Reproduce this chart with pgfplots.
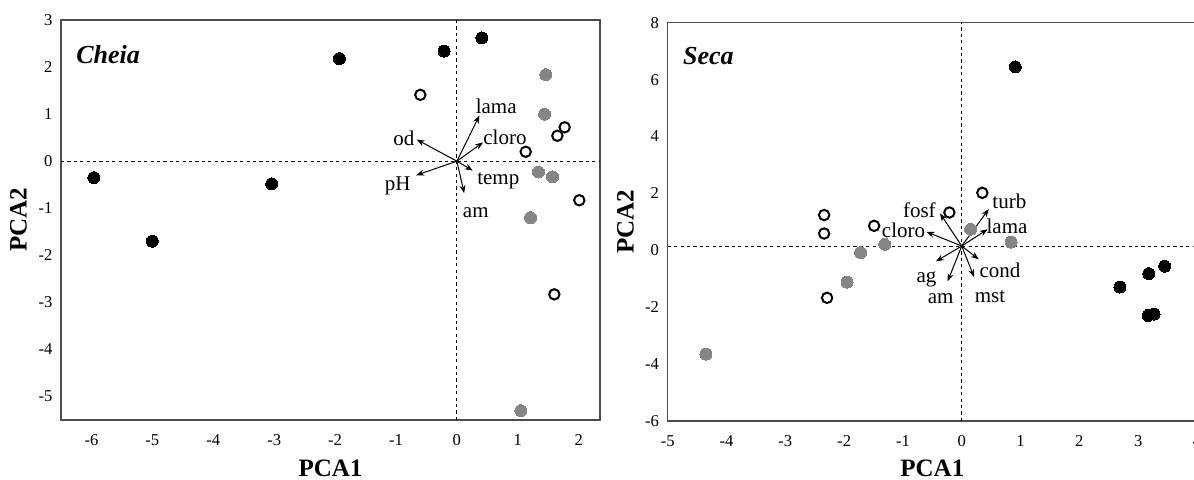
\documentclass[border=0pt]{standalone}
\usepackage{fontspec}
\setmainfont{Liberation Serif}
\usepackage{pgfplots}
\pgfplotsset{compat=1.18}
\usetikzlibrary{arrows.meta}

\definecolor{dotgray}{HTML}{858585}

\pgfplotsset{
  pca/.style={
    scale only axis,
    clip=false,
    axis line style={black!70, line width=0.75pt},
    major tick length=0pt,
    tick style={draw=none},
    /pgf/number format/assume math mode=true,
    tick label style={font=\fontsize{8.3}{10}\selectfont},
    xticklabel style={yshift=-3.6pt},
    yticklabel style={xshift=-0.8pt},
    label style={font=\fontsize{12.5}{15}\selectfont\bfseries},
    xlabel style={at={(axis description cs:0.5,-0.12)}, anchor=center},
    ylabel style={at={(axis description cs:-0.079,0.5)}, anchor=center},
  },
  blackdot/.style={only marks, black, mark=*, mark size=3pt, mark options={draw=black, fill=black, line width=0pt}},
  graydot/.style={only marks, dotgray, mark=*, mark size=3pt, mark options={draw=dotgray, fill=dotgray, line width=0pt}},
  opendot/.style={only marks, black, mark=o, mark size=2.6pt, mark options={draw=black, line width=1pt}},
  zeroline/.style={black, line width=0.5pt, dash pattern=on 1.6pt off 1.6pt},
  loading/.style={black, line width=0.5pt, -{Stealth[length=4pt, width=3pt]},
    quiver={u=\thisrow{u}, v=\thisrow{v}}},
}
\tikzset{
  vname/.style={font=\fontsize{10.5}{12}\selectfont, anchor=base, inner sep=0pt},
  panel/.style={anchor=base west, inner sep=0pt, font=\fontsize{13}{15}\selectfont\bfseries\itshape},
}

\begin{document}
\begin{tikzpicture}
\useasboundingbox (0,0) rectangle (597pt,-240pt);

% ---- Cheia ----
\begin{axis}[pca,
    at={(30.5pt,-210pt)}, anchor=south west,
    width=269.5pt, height=200pt,
    xmin=-6.5, xmax=2.35, ymin=-5.5, ymax=3,
    xtick={-6,-5,...,2}, ytick={-5,-4,...,3},
    xlabel={PCA1}, ylabel={PCA2},
]
\addplot[zeroline] coordinates {(-6.5,0) (2.35,0)};
\addplot[zeroline] coordinates {(0,-5.5) (0,3)};

\addplot[loading] table {
x y u v
0 0 0.37 0.97
0 0 0.43 0.40
0 0 -0.66 0.46
0 0 -0.67 -0.30
0 0 0.26 -0.20
0 0 0.12 -0.68
};
\node[vname] at (axis cs:0.645,1.02) {lama};
\node[vname] at (axis cs:0.79,0.35) {cloro};
\node[vname] at (axis cs:-0.87,0.34) {od};
\node[vname] at (axis cs:-0.97,-0.63) {pH};
\node[vname] at (axis cs:0.68,-0.49) {temp};
\node[vname] at (axis cs:0.31,-1.2) {am};

\addplot[blackdot] coordinates {(-5.96,-0.35) (-5.0,-1.7) (-3.04,-0.48) (-1.93,2.18) (-0.21,2.34) (0.41,2.62)};
\addplot[graydot] coordinates {(1.46,1.84) (1.44,1.0) (1.34,-0.23) (1.57,-0.33) (1.21,-1.2) (1.05,-5.3)};
\addplot[opendot] coordinates {(-0.6,1.41) (1.13,0.2) (1.65,0.54) (1.77,0.72) (2.01,-0.83) (1.6,-2.83)};

\node[panel, xshift=7.5pt, yshift=-21.5pt] at (rel axis cs:0,1) {Cheia};
\end{axis}

% ---- Seca ----
\begin{axis}[pca,
    at={(333.85pt,-210.5pt)}, anchor=south west,
    width=264.65pt, height=199.15pt,
    xmin=-5, xmax=4, ymin=-6, ymax=8,
    xtick={-5,-4,...,4}, ytick={-6,-4,...,8},
    xlabel={PCA1}, ylabel={PCA2},
    ylabel style={at={(axis description cs:-0.08,0.5)}},
]
\addplot[zeroline] coordinates {(-5,0.15) (4,0.15)};
\addplot[zeroline] coordinates {(0,-6) (0,8)};

\addplot[loading] table {
x y u v
0 0.15 0.46 1.30
0 0.15 0.44 0.59
0 0.15 -0.37 1.15
0 0.15 -0.60 0.50
0 0.15 -0.44 -0.54
0 0.15 -0.24 -1.24
0 0.15 0.29 -0.47
0 0.15 0.21 -1.09
};
\node[vname] at (axis cs:0.81,1.47) {turb};
\node[vname] at (axis cs:0.77,0.59) {lama};
\node[vname] at (axis cs:-0.72,1.15) {fosf};
\node[vname] at (axis cs:-0.99,0.45) {cloro};
\node[vname] at (axis cs:0.65,-0.94) {cond};
\node[vname] at (axis cs:0.48,-1.82) {mst};
\node[vname] at (axis cs:-0.6,-1.12) {ag};
\node[vname] at (axis cs:-0.36,-1.88) {am};

\addplot[blackdot] coordinates {(0.91,6.45) (2.69,-1.29) (3.18,-0.82) (3.45,-0.56) (3.17,-2.29) (3.27,-2.24)};
\addplot[graydot] coordinates {(-4.35,-3.65) (-1.95,-1.12) (-1.72,-0.08) (-1.31,0.21) (0.15,0.74) (0.84,0.29)};
\addplot[opendot] coordinates {(-2.34,1.24) (-2.34,0.59) (-1.49,0.86) (-0.21,1.33) (0.35,2.02) (-2.29,-1.67)};

\node[panel, xshift=7.5pt, yshift=-20.8pt] at (rel axis cs:0,1) {Seca};
\end{axis}
\end{tikzpicture}
\end{document}
